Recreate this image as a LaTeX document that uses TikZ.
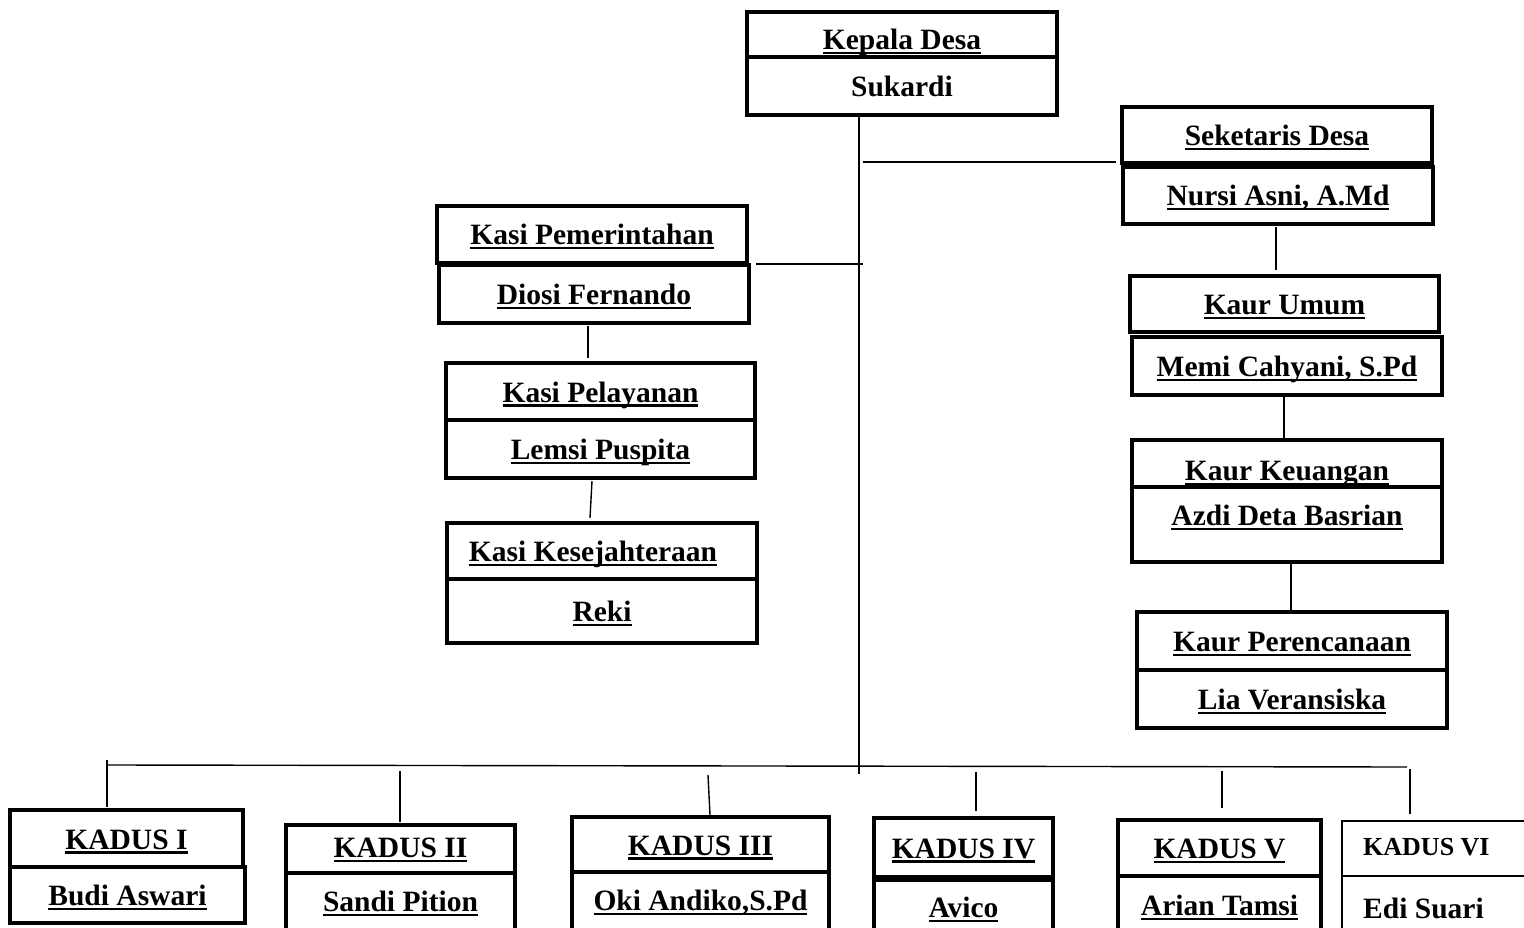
\documentclass[tikz,border=0pt]{standalone}
\usepackage{fontspec}
\setmainfont{Liberation Serif}
\newsavebox\myulbox
\newcommand{\myul}[1]{\sbox\myulbox{#1}\rlap{\rule[-4.5pt]{\wd\myulbox}{2.2pt}}\usebox\myulbox}
\begin{document}
\begin{tikzpicture}[x=1pt,y=-1pt,
  box/.style={draw, line width=3.5pt, inner sep=0pt, text height=21pt, text depth=0pt, font=\fontsize{29.5}{34}\selectfont\bfseries},
  thinbox/.style={draw, line width=1.3pt, inner sep=0pt},
  conn/.style={line width=1.4pt},
  lbl/.style={inner sep=0pt, text height=21pt, text depth=0pt, font=\fontsize{29.5}{34}\selectfont\bfseries}]
\useasboundingbox (0,0) rectangle (1524,928);
% Kepala Desa
\node[box, minimum width=310, minimum height=58] (kdn) at (902,86) {Sukardi};
\node[box, minimum width=310, minimum height=45, text height=31pt] (kd) at (902,34.5) {\myul{Kepala Desa}};
% Sekretaris
\node[box, minimum width=310, minimum height=56] (sek) at (1277,135) {\myul{Seketaris Desa}};
\node[box, minimum width=310, minimum height=57] (sekn) at (1278,195.5) {\myul{Nursi Asni, A.Md}};
\node[box, minimum width=309, minimum height=56] (ku) at (1284.5,304) {\myul{Kaur Umum}};
\node[box, minimum width=310, minimum height=58] (kun) at (1287,366) {\myul{Memi Cahyani, S.Pd}};
\node[box, minimum width=310, minimum height=47] (kk) at (1287,463.5) {};
\node[box, minimum width=310, minimum height=75] (kkn) at (1287,524.5) {};
\node[lbl] (kkt) at (1287,470) {\myul{Kaur Keuangan}};
\node[lbl] (kknt) at (1287,515) {\myul{Azdi Deta Basrian}};
\node[box, minimum width=310, minimum height=58] (kp) at (1292,641) {\myul{Kaur Perencanaan}};
\node[box, minimum width=310, minimum height=58] (kpn) at (1292,699) {\myul{Lia Veransiska}};
% Kasi column
\node[box, minimum width=310, minimum height=57] (kpe) at (592,234.5) {\myul{Kasi Pemerintahan}};
\node[box, minimum width=310, minimum height=58] (kpen) at (594,294) {\myul{Diosi Fernando}};
\node[box, minimum width=309, minimum height=57] (kpl) at (600.5,391.5) {\myul{Kasi Pelayanan}};
\node[box, minimum width=309, minimum height=58] (kpln) at (600.5,449) {\myul{Lemsi Puspita}};
\node[box, minimum width=310, minimum height=56] (kks) at (602,551) {};
\node[lbl] (kkst) at (593,551) {\myul{Kasi Kesejahteraan}};
\node[box, minimum width=310, minimum height=64] (kksn) at (602,611) {\myul{Reki}};
% Kadus
\node[box, minimum width=233, minimum height=57] (k1) at (126.5,838.5) {\myul{KADUS I}};
\node[box, minimum width=235, minimum height=56] (k1n) at (127.5,895) {\myul{Budi Aswari}};
\node[box, minimum width=229, minimum height=48, text height=17pt] (k2) at (400.5,849) {\myul{KADUS II}};
\node[box, minimum width=229, minimum height=62] (k2n) at (400.5,904) {};
\node[lbl] (k2nt) at (400.5,901) {\myul{Sandi Pition}};
\node[box, minimum width=257, minimum height=55] (k3) at (700.5,844.5) {\myul{KADUS III}};
\node[box, minimum width=257, minimum height=63] (k3n) at (700.5,903.5) {};
\node[lbl] (k3nt) at (700.5,900) {\myul{Oki Andiko,S.Pd}};
\node[box, minimum width=179, minimum height=59] (k4) at (963.5,847.5) {\myul{KADUS IV}};
\node[box, minimum width=179, minimum height=60] (k4n) at (963.5,910) {};
\node[lbl] (k4nt) at (963.5,907) {\myul{Avico}};
\node[box, minimum width=203, minimum height=56] (k5) at (1219.5,848) {\myul{KADUS V}};
\node[box, minimum width=203, minimum height=62] (k5n) at (1219.5,907) {};
\node[lbl] (k5nt) at (1219.5,905) {\myul{Arian Tamsi}};
\node[thinbox, minimum width=200, minimum height=55] (k6) at (1442,848.5) {};
\node[thinbox, minimum width=200, minimum height=64] (k6n) at (1442,908) {};
\node[inner sep=0pt, anchor=west, font=\fontsize{26}{30}\selectfont\bfseries] (k6t) at (1363,847) {KADUS VI};
\node[inner sep=0pt, anchor=west, font=\fontsize{29.5}{34}\selectfont\bfseries] (k6nt) at (1363,908) {Edi Suari};
% connector coordinates
\coordinate (mtop) at (859,115);
\coordinate (mbot) at (859,774);
\coordinate (sekL) at (863,162);
\coordinate (sekR) at (1116,162);
\coordinate (kpeL) at (756,264);
\coordinate (kpeR) at (863,264);
\coordinate (busL) at (107,765);
\coordinate (busR) at (1407,767);
% connectors
\draw[conn] (mtop) -- (mbot);
\draw[conn] (sekL) -- (sekR);
\draw[conn] (kpeL) -- (kpeR);
\draw[conn] (1276,227) -- (1276,270);
\draw[conn] (1284,396) -- (1284,438);
\draw[conn] (1291,563) -- (1291,611);
\draw[conn] (588,326) -- (588,358);
\draw[conn] (592,481) -- (590,518);
\draw[conn] (busL) -- (busR);
\draw[conn] (107,760) -- (107,807);
\draw[conn] (400,771) -- (400,822);
\draw[conn] (708,775) -- (710,815);
\draw[conn] (976,772) -- (976,811);
\draw[conn] (1222,771) -- (1222,808);
\draw[conn] (1410,769) -- (1410,814);
\end{tikzpicture}
\end{document}
